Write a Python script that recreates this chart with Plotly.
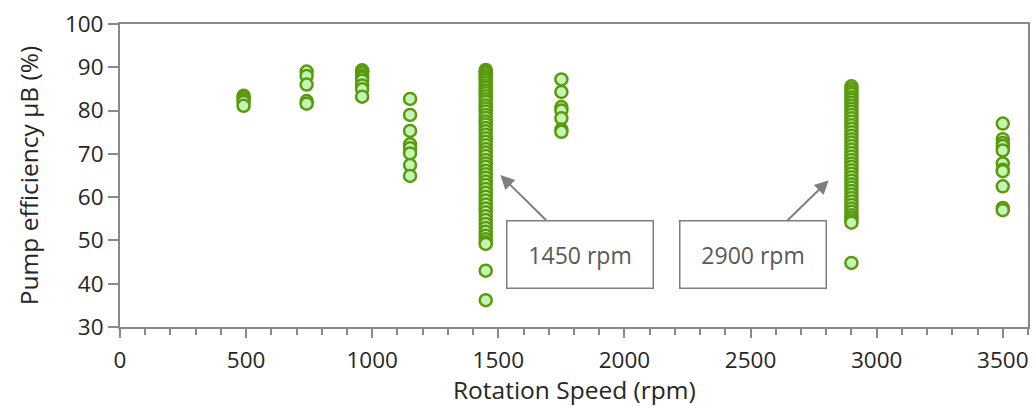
import plotly.graph_objects as go

# ---- data ----
speed_490 = [83.4, 83.0, 82.5, 82.0, 81.1]
speed_740 = [89.0, 88.0, 86.0, 82.2, 81.6]
speed_960 = [89.3, 89.0, 88.6, 88.0, 87.5, 86.9, 85.8, 84.9, 83.2]
speed_1150 = [82.7, 79.0, 75.3, 72.2, 71.3, 70.1, 67.4, 64.9]
speed_1450 = [89.4, 89.0, 88.6, 88.1, 87.5, 87.0, 86.4, 85.8, 85.2, 84.6,
              84.0, 83.3, 82.6, 82.0, 81.2, 80.5, 79.8, 79.0, 78.3, 77.5,
              76.8, 76.0, 75.2, 74.4, 73.6, 72.8, 72.0, 71.1, 70.3, 69.5,
              68.6, 67.8, 67.0, 66.1, 65.3, 64.5, 63.6, 62.8, 61.9, 61.0,
              60.1, 59.2, 58.3, 57.4, 56.5, 55.6, 54.7, 53.8, 52.9, 52.0,
              51.1, 50.3, 49.6, 49.2, 43.0, 36.2]
speed_1750 = [87.2, 84.3, 80.8, 80.0, 78.2, 75.6, 75.1]
speed_2900 = [85.6, 85.0, 84.4, 83.8, 83.1, 82.5, 81.8, 81.1, 80.4, 79.7,
              79.0, 78.2, 77.4, 76.6, 75.8, 75.0, 74.2, 73.4, 72.6, 71.8,
              71.0, 70.2, 69.4, 68.6, 67.8, 67.0, 66.2, 65.4, 64.6, 63.8,
              63.0, 62.2, 61.4, 60.6, 59.8, 59.0, 58.2, 57.4, 56.6, 55.8,
              55.2, 54.6, 54.1, 44.8]
speed_3500 = [77.0, 73.4, 72.5, 71.8, 70.8, 67.8, 66.3, 66.0, 62.5, 57.5, 57.0]

groups = {
    490: speed_490, 740: speed_740, 960: speed_960, 1150: speed_1150,
    1450: speed_1450, 1750: speed_1750, 2900: speed_2900, 3500: speed_3500,
}

x_vals, y_vals = [], []
for rpm, effs in groups.items():
    for e in effs:
        x_vals.append(rpm)
        y_vals.append(e)

x_ticks = [0, 500, 1000, 1500, 2000, 2500, 3000, 3500]
y_ticks = [30, 40, 50, 60, 70, 80, 90, 100]

FONT = "Open Sans"
AXIS_COLOR = "#898989"
TEXT_COLOR = "#262626"
TITLE_SIZE = 24.5
TICK_SIZE = 22.5

fig = go.Figure()
fig.add_trace(go.Scatter(
    x=x_vals, y=y_vals, mode="markers",
    marker=dict(size=12, color="#c3f5b3",
                line=dict(color="#5a9a0e", width=2.5)),
    showlegend=False, cliponaxis=False,
))

fig.update_layout(
    width=1036, height=406,
    margin=dict(l=120, r=8, t=24, b=79, autoexpand=False),
    paper_bgcolor="white", plot_bgcolor="white",
    font=dict(family=FONT, color=TEXT_COLOR, size=22),
    xaxis=dict(
        range=[0, 3600], tickvals=x_ticks, ticktext=[str(v) for v in x_ticks],
        showgrid=False, zeroline=False, automargin=False,
        showline=True, linecolor=AXIS_COLOR, linewidth=2, mirror=True,
        ticks="outside", ticklen=9, tickwidth=2, tickcolor=AXIS_COLOR,
        minor=dict(dtick=100, ticks="outside", ticklen=6, tickwidth=2,
                   tickcolor=AXIS_COLOR, showgrid=False),
        tickfont=dict(size=TICK_SIZE, color=TEXT_COLOR, family=FONT),
        ticklabelstandoff=3,
    ),
    yaxis=dict(
        range=[30, 100], tickvals=y_ticks, ticktext=[str(v) for v in y_ticks],
        showgrid=False, zeroline=False, automargin=False,
        showline=True, linecolor=AXIS_COLOR, linewidth=2, mirror=True,
        ticks="outside", ticklen=10, tickwidth=2, tickcolor=AXIS_COLOR,
        tickfont=dict(size=TICK_SIZE, color=TEXT_COLOR, family=FONT),
        title=dict(text="Pump efficiency µB (%)", standoff=19,
                   font=dict(size=TITLE_SIZE, color=TEXT_COLOR, family=FONT)),
    ),
)

# x-axis title placed explicitly so it sits just below the tick labels
fig.add_annotation(
    text="Rotation Speed (rpm)", xref="paper", yref="paper",
    x=0.5, y=-0.206, xanchor="center", yanchor="middle", showarrow=False,
    font=dict(size=TITLE_SIZE, color=TEXT_COLOR, family=FONT),
)

ann_style = dict(
    xref="x", yref="y", axref="pixel", ayref="pixel",
    showarrow=True, arrowhead=2, arrowsize=1.4, arrowwidth=2,
    arrowcolor="#7f7f7f", standoff=0,
    bordercolor="#7f7f7f", borderwidth=1.5, borderpad=0,
    bgcolor="white", width=145, height=66,
    font=dict(family=FONT, size=23, color="#595959"),
)
fig.add_annotation(text="1450 rpm", x=1508, y=65.1, ax=80, ay=79, **ann_style)
fig.add_annotation(text="2900 rpm", x=2810, y=63.9, ax=-76, ay=74, **ann_style)

fig.write_html("out.html")
